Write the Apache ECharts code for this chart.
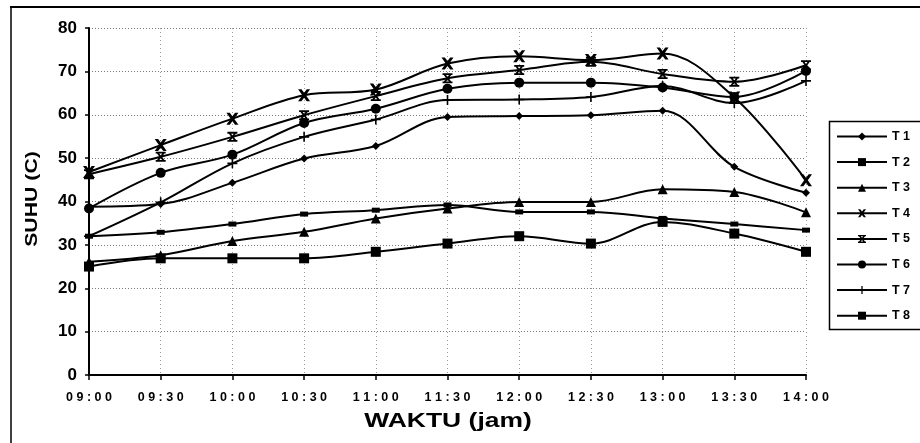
<!DOCTYPE html>
<html>
<head>
<meta charset="utf-8">
<script src="https://cdn.jsdelivr.net/npm/echarts@6/dist/echarts.min.js"></script>
<style>
  html, body { margin: 0; padding: 0; background: #fff; }
  #chart { width: 920px; height: 443px; }
</style>
</head>
<body>
<div id="chart"></div>
<script>
// Waktu pengukuran (jam)
var waktu = ['09:00', '09:30', '10:00', '10:30', '11:00', '11:30', '12:00', '12:30', '13:00', '13:30', '14:00'];

// Suhu (C) tiap titik ukur
var T1 = [38.8, 39.4, 44.3, 49.9, 52.8, 59.5, 59.7, 59.9, 60.9, 48.0, 42.0];
var T2 = [25.0, 26.9, 26.9, 26.9, 28.4, 30.3, 32.0, 30.3, 35.3, 32.6, 28.4];
var T3 = [26.1, 27.6, 30.9, 33.0, 36.1, 38.4, 39.9, 39.9, 42.8, 42.2, 37.5];
var T4 = [46.8, 53.0, 59.1, 64.5, 65.8, 71.8, 73.5, 72.6, 74.1, 64.0, 44.9];
var T5 = [46.3, 50.3, 54.9, 59.9, 64.3, 68.4, 70.3, 72.2, 69.4, 67.6, 71.4];
var T6 = [38.4, 46.6, 50.8, 58.1, 61.4, 66.0, 67.4, 67.4, 66.3, 64.1, 70.1];
var T7 = [32.0, 39.8, 48.8, 54.9, 58.9, 63.4, 63.5, 64.1, 66.6, 62.7, 67.8];
var T8 = [32.0, 32.9, 34.8, 37.1, 38.0, 39.2, 37.6, 37.6, 36.1, 34.8, 33.4];

var yTicks = [0, 10, 20, 30, 40, 50, 60, 70, 80];

var judulX = 'WAKTU (jam)';
var judulY = 'SUHU (C)';

// Marker shapes
var SYM_X = 'path://M0,0 L2.8,0 L5,2.9 L7.2,0 L10,0 L6.5,5 L10,10 L7.2,10 L5,7.1 L2.8,10 L0,10 L3.5,5 Z';
var SYM_XBAR = 'path://M0,0 H10 V1.8 H0 Z M0,8.2 H10 V10 H0 Z M0.8,1 L3,1 L5,3.6 L7,1 L9.2,1 L6.3,5 L9.2,9 L7,9 L5,6.4 L3,9 L0.8,9 L3.7,5 Z';
var SYM_PLUS = 'path://M4.2,0 H5.8 V4.2 H10 V5.8 H5.8 V10 H4.2 V5.8 H0 V4.2 H4.2 Z';

var FONT = 'Arial, "Liberation Sans", sans-serif';

function spaced(s) { return s.split('').join(' '); }

function mkSeries(name, data, symbol, size) {
  return {
    name: name,
    type: 'line',
    data: data,
    smooth: 0.35,
    symbol: symbol,
    symbolSize: size,
    showAllSymbol: true,
    lineStyle: { color: '#000', width: 2 },
    itemStyle: { color: '#000', borderWidth: 0 },
    emphasis: { disabled: true },
    z: 3
  };
}

var chart = echarts.init(document.getElementById('chart'), null, { renderer: 'canvas' });

chart.setOption({
  animation: false,
  backgroundColor: '#fff',
  grid: { left: 89, right: 114, top: 28, bottom: 68, containLabel: false },
  xAxis: {
    type: 'category',
    data: waktu,
    boundaryGap: false,
    axisLine: { lineStyle: { color: '#000', width: 2 } },
    axisTick: { show: true, alignWithLabel: true, length: 5, lineStyle: { color: '#000', width: 1.5 } },
    axisLabel: {
      interval: 0,
      margin: 16,
      fontFamily: FONT,
      fontWeight: 'bold',
      fontSize: 12.5,
      color: '#000',
      formatter: function (v) { return spaced(v); }
    },
    splitLine: { show: true, lineStyle: { color: '#9a9a9a', type: [1, 3], width: 1 } }
  },
  yAxis: {
    type: 'value',
    min: yTicks[0],
    max: yTicks[yTicks.length - 1],
    interval: 10,
    axisLine: { show: true, lineStyle: { color: '#000', width: 2 } },
    axisTick: { show: true, length: 4, lineStyle: { color: '#000', width: 1.5 } },
    axisLabel: {
      margin: 12,
      fontFamily: FONT,
      fontWeight: 'bold',
      fontSize: 17,
      color: '#000'
    },
    splitLine: { show: true, lineStyle: { color: '#7a7a7a', type: [1, 2], width: 1 } }
  },
  legend: {
    orient: 'vertical',
    left: 836,
    top: 130,
    padding: 0,
    itemWidth: 50,
    itemHeight: 10,
    itemGap: 12.6,
    selectedMode: false,
    textStyle: { fontFamily: FONT, fontWeight: 'bold', fontSize: 12.5, color: '#000' },
    formatter: function (n) { return spaced(n); },
    data: ['T1', 'T2', 'T3', 'T4', 'T5', 'T6', 'T7', 'T8']
  },
  graphic: [
    // outer frame of the chart area
    { type: 'line', shape: { x1: 10, y1: 7, x2: 920, y2: 7 }, style: { stroke: '#000', lineWidth: 2 }, silent: true },
    { type: 'line', shape: { x1: 11, y1: 7, x2: 11, y2: 443 }, style: { stroke: '#000', lineWidth: 1.5 }, silent: true },
    // legend frame
    { type: 'rect', shape: { x: 829.5, y: 121.5, width: 120, height: 208 }, style: { fill: 'none', stroke: '#000', lineWidth: 1.5 }, silent: true, z: 0 },
    // axis titles (wide bold lettering)
    {
      type: 'text', x: 448, y: 421, scaleX: 1.26, silent: true,
      style: { text: judulX, font: 'bold 21px ' + FONT, fill: '#000', align: 'center', verticalAlign: 'middle' }
    },
    {
      type: 'text', x: 32, y: 199, rotation: Math.PI / 2, scaleX: 1.25, silent: true,
      style: { text: judulY, font: 'bold 17px ' + FONT, fill: '#000', align: 'center', verticalAlign: 'middle' }
    }
  ],
  series: [
    mkSeries('T1', T1, 'diamond', 8),
    mkSeries('T2', T2, 'rect', 10),
    mkSeries('T3', T3, 'triangle', 10),
    mkSeries('T4', T4, SYM_X, 12),
    mkSeries('T5', T5, SYM_XBAR, 10),
    mkSeries('T6', T6, 'circle', 10),
    mkSeries('T7', T7, SYM_PLUS, 10),
    mkSeries('T8', T8, 'rect', [8, 5])
  ]
});
</script>
</body>
</html>
